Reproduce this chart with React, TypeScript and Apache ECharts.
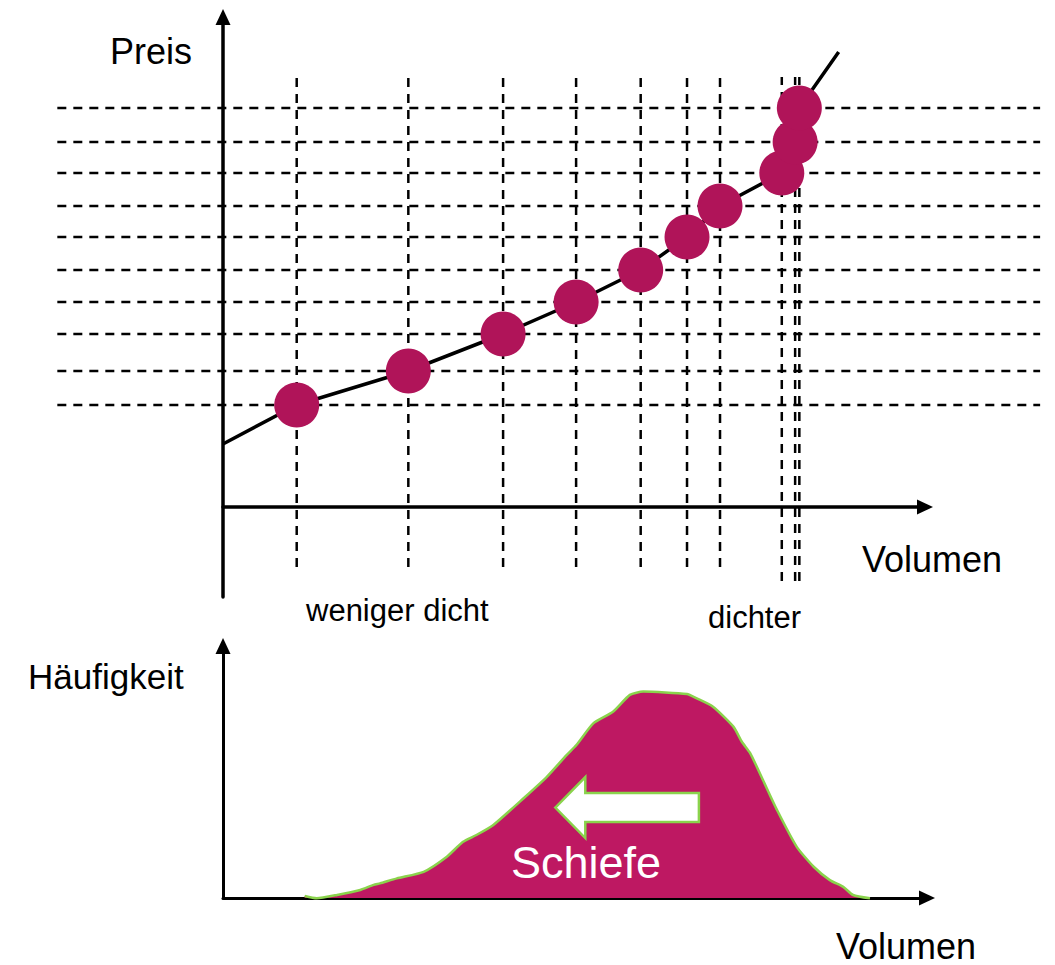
import React, { useEffect, useRef } from "react";
import * as echarts from "echarts";

// ---- Top diagram: supply points (volume, price) ----
const volumes = [10.5, 26.4, 39.9, 50.3, 59.5, 66.1, 70.8, 79.6, 81.5, 82.1];
const prices = [20.4, 27.2, 34.6, 41.0, 47.4, 54.0, 60.2, 66.8, 73.0, 79.8];
const curveStart = [0, 12.6];
const curveEnd = [87.7, 91.0];
// dashed guide extents, in axis units
const horizontalGuideFrom = -23.6;
const horizontalGuideTo = 116.4;
const verticalGuideTop = 86;
const verticalGuideBottom = [-12, -12, -12, -12, -12, -12, -12, -14.8, -14.8, -14.8];

// ---- Bottom diagram: frequency distribution ----
const densityVolume = [
  11.6, 13.3, 16.2, 19.5, 21.4, 22.3, 24.7, 28.5, 31.8, 34.1, 36.0, 38.4, 42.7, 46.0,
  48.8, 50.2, 52.6, 55.4, 57.8, 59.7, 65.9, 67.3, 69.6, 72.5, 73.7, 74.9, 76.7, 78.7,
  81.5, 83.9, 86.2, 88.1, 89.5, 91.9,
];
const densityFrequency = [
  0.8, -0.1, 1.2, 3.2, 5.2, 5.8, 7.8, 10.4, 16.4, 22.3, 25.0, 29.0, 39.6, 48.1,
  56.7, 60.7, 69.3, 73.9, 80.6, 81.9, 80.95, 79.2, 75.9, 68.0, 62.0, 57.4, 46.8, 34.9,
  20.3, 12.4, 7.1, 4.4, 1.2, -0.1,
];
// skew arrow: tip volume, tail volume, frequency level
const skewArrow = [47.2, 67.6, 35.9];

const labels = {
  price: "Preis",
  volume: "Volumen",
  lessDense: "weniger dicht",
  denser: "dichter",
  frequency: "Häufigkeit",
  skew: "Schiefe",
};

const FONT = '"Liberation Sans", Arial, Helvetica, sans-serif';
const DOT = "#B01459";
const FILL = "#BE1862";
const GREEN = "#8AD34C";

// top diagram scale (layout)
const TOP_X0 = 223; // pixel of volume 0
const TOP_PX_X = 7.02; // pixels per volume unit
const TOP_Y0 = 507; // pixel of price 0
const TOP_PX_Y = 5; // pixels per price unit
const TOP_X_RANGE = [0, 100];
const TOP_Y_RANGE = [-18, 98];
const GUIDE_X_RANGE = [-24, 117];
const GUIDE_Y_RANGE = [-15, 87];

function gridFor(xr: number[], yr: number[]) {
  return {
    left: TOP_X0 + xr[0] * TOP_PX_X,
    top: TOP_Y0 - yr[1] * TOP_PX_Y,
    width: (xr[1] - xr[0]) * TOP_PX_X,
    height: (yr[1] - yr[0]) * TOP_PX_Y,
  };
}

function visibleAxis(gridIndex: number, min: number, max: number, width: number) {
  return {
    gridIndex,
    type: "value",
    min,
    max,
    axisLine: {
      show: true,
      onZero: true,
      symbol: ["none", "triangle"],
      symbolSize: [15, 16],
      lineStyle: { color: "#000", width },
    },
    axisTick: { show: false },
    axisLabel: { show: false },
    splitLine: { show: false },
  };
}

function hiddenAxis(gridIndex: number, min: number, max: number) {
  return {
    gridIndex,
    type: "value",
    min,
    max,
    show: false,
    axisLine: { show: false },
    axisTick: { show: false },
    axisLabel: { show: false },
    splitLine: { show: false },
  };
}

export default function App() {
  const ref = useRef<HTMLDivElement>(null);

  useEffect(() => {
    if (!ref.current) return;
    const chart = echarts.init(ref.current, undefined, { renderer: "svg" });

    const dash = { color: "#000", width: 2.5, type: [9, 7] as any };

    const horizontalGuides = prices.map((p) => ({
      type: "line",
      xAxisIndex: 2,
      yAxisIndex: 2,
      data: [
        [horizontalGuideFrom, p],
        [horizontalGuideTo, p],
      ],
      symbol: "none",
      silent: true,
      lineStyle: dash,
      z: 1,
    }));

    const verticalGuides = volumes.map((v, i) => ({
      type: "line",
      xAxisIndex: 2,
      yAxisIndex: 2,
      data: [
        [v, verticalGuideBottom[i]],
        [v, verticalGuideTop],
      ],
      symbol: "none",
      silent: true,
      lineStyle: dash,
      z: 1,
    }));

    const points = volumes.map((v, i) => [v, prices[i]]);

    const textStyle = (size: number, color = "#000") => ({
      fontSize: size,
      fontFamily: FONT,
      fill: color,
      align: "left",
      verticalAlign: "middle",
    });

    const option: any = {
      animation: false,
      backgroundColor: "#fff",
      grid: [
        gridFor(TOP_X_RANGE, TOP_Y_RANGE),
        { left: 223, top: 646, width: 704, height: 252 },
        gridFor(GUIDE_X_RANGE, GUIDE_Y_RANGE),
      ],
      xAxis: [
        visibleAxis(0, TOP_X_RANGE[0], TOP_X_RANGE[1], 3.5),
        visibleAxis(1, 0, 100, 3),
        hiddenAxis(2, GUIDE_X_RANGE[0], GUIDE_X_RANGE[1]),
      ],
      yAxis: [
        visibleAxis(0, TOP_Y_RANGE[0], TOP_Y_RANGE[1], 3.5),
        visibleAxis(1, 0, 100, 3),
        hiddenAxis(2, GUIDE_Y_RANGE[0], GUIDE_Y_RANGE[1]),
      ],
      series: [
        ...horizontalGuides,
        ...verticalGuides,
        {
          type: "line",
          xAxisIndex: 0,
          yAxisIndex: 0,
          data: [curveStart, ...points, curveEnd],
          symbol: "none",
          silent: true,
          lineStyle: { color: "#000", width: 3.5 },
          z: 3,
        },
        {
          type: "scatter",
          xAxisIndex: 0,
          yAxisIndex: 0,
          data: points,
          symbolSize: 45,
          clip: false,
          silent: true,
          itemStyle: { color: DOT, opacity: 1 },
          z: 4,
        },
        {
          type: "line",
          xAxisIndex: 1,
          yAxisIndex: 1,
          data: densityVolume.map((v, i) => [v, densityFrequency[i]]),
          symbol: "none",
          smooth: 0.2,
          clip: false,
          silent: true,
          lineStyle: { color: GREEN, width: 2.5 },
          areaStyle: { color: FILL, opacity: 1 },
          z: 2,
        },
        {
          type: "custom",
          xAxisIndex: 1,
          yAxisIndex: 1,
          silent: true,
          clip: false,
          data: [skewArrow],
          z: 5,
          renderItem: (params: any, api: any) => {
            const tip = api.coord([api.value(0), api.value(2)]);
            const tail = api.coord([api.value(1), api.value(2)]);
            const cy = tip[1];
            const headLen = 30;
            const headHalf = 30.5;
            const shaftHalf = 14.5;
            const hx = tip[0] + headLen;
            return {
              type: "polygon",
              shape: {
                points: [
                  [tip[0], cy],
                  [hx, cy - headHalf],
                  [hx, cy - shaftHalf],
                  [tail[0], cy - shaftHalf],
                  [tail[0], cy + shaftHalf],
                  [hx, cy + shaftHalf],
                  [hx, cy + headHalf],
                ],
              },
              style: { fill: "#fff", stroke: GREEN, lineWidth: 2.5, lineJoin: "miter" },
            };
          },
        },
      ],
      graphic: [
        { type: "text", x: 110, y: 51, silent: true, style: { text: labels.price, ...textStyle(36) } },
        { type: "text", x: 862, y: 559, silent: true, style: { text: labels.volume, ...textStyle(36) } },
        { type: "text", x: 306, y: 610, silent: true, style: { text: labels.lessDense, ...textStyle(31) } },
        { type: "text", x: 708, y: 617, silent: true, style: { text: labels.denser, ...textStyle(31) } },
        { type: "text", x: 28, y: 676, silent: true, style: { text: labels.frequency, ...textStyle(35) } },
        { type: "text", x: 836, y: 946, silent: true, style: { text: labels.volume, ...textStyle(36) } },
        { type: "text", x: 511, y: 862, z: 10, silent: true, style: { text: labels.skew, ...textStyle(45, "#fff") } },
      ],
    };

    chart.setOption(option);
    return () => chart.dispose();
  }, []);

  return (
    <div
      ref={ref}
      style={{ position: "fixed", left: 0, top: 0, width: 1055, height: 965, background: "#fff" }}
    />
  );
}
